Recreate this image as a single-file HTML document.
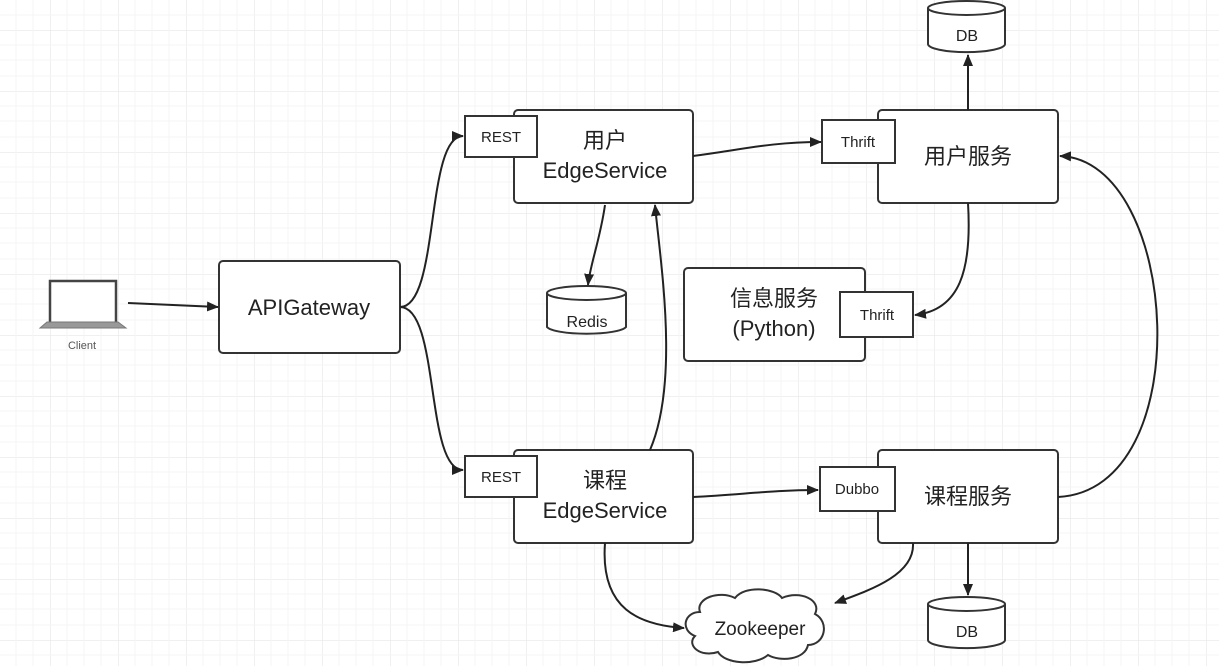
<!DOCTYPE html>
<html><head><meta charset="utf-8"><style>
html,body{margin:0;padding:0;background:#fff;}
svg{display:block;}
text{font-family:"Liberation Sans","Noto Sans CJK SC",sans-serif;fill:#222;}
</style></head><body>
<svg width="1219" height="666" viewBox="0 0 1219 666" xmlns="http://www.w3.org/2000/svg">
<defs>
<pattern id="g" width="68" height="61" patternUnits="userSpaceOnUse" x="-18" y="30">
<path d="M0 0H68M0 0V61" stroke="#e6e6e6" stroke-width="1.2" fill="none"/>
<path d="M0 15H68M0 30H68M0 46H68M17 0V61M34 0V61M51 0V61" stroke="#f4f4f4" stroke-width="1" fill="none"/>
</pattern>
<marker id="a" markerWidth="12" markerHeight="10" refX="11" refY="5" orient="auto" markerUnits="userSpaceOnUse"><path d="M0 0L12 5L0 10Z" fill="#222"/></marker>
</defs>
<rect width="1219" height="666" fill="url(#g)"/>
<g fill="#fff" stroke="#333" stroke-width="2">
<rect x="219" y="261" width="181" height="92" rx="4"/>
<rect x="514" y="110" width="179" height="93" rx="4"/>
<rect x="514" y="450" width="179" height="93" rx="4"/>
<rect x="878" y="110" width="180" height="93" rx="4"/>
<rect x="878" y="450" width="180" height="93" rx="4"/>
<rect x="684" y="268" width="181" height="93" rx="4"/>
<rect x="465" y="116" width="72" height="41"/>
<rect x="465" y="456" width="72" height="41"/>
<rect x="822" y="120" width="73" height="43"/>
<rect x="820" y="467" width="75" height="44"/>
<rect x="840" y="292" width="73" height="45"/>
</g>
<g font-size="15">
<text x="501" y="142" text-anchor="middle">REST</text>
<text x="501" y="482" text-anchor="middle">REST</text>
<text x="858" y="147" text-anchor="middle">Thrift</text>
<text x="857" y="494" text-anchor="middle">Dubbo</text>
<text x="877" y="320" text-anchor="middle">Thrift</text>
</g>
<g font-size="22" text-anchor="middle">
<text x="309" y="315">APIGateway</text>
<text x="605" y="148">用户</text>
<text x="605" y="178">EdgeService</text>
<text x="605" y="488">课程</text>
<text x="605" y="518">EdgeService</text>
<text x="968" y="164">用户服务</text>
<text x="968" y="504">课程服务</text>
<text x="774" y="306">信息服务</text>
<text x="774" y="336">(Python)</text>
</g>
<!-- DBs -->
<g stroke="#333" stroke-width="2" fill="#fff">
<path d="M928 8V44A38 8 0 0 0 1005 44V8"/><ellipse cx="966.5" cy="8" rx="38.5" ry="7"/>
<path d="M928 604V640A38 8 0 0 0 1005 640V604"/><ellipse cx="966.5" cy="604" rx="38.5" ry="7"/>
<path d="M547 293V327A40 8 0 0 0 626 327V293"/><ellipse cx="586.5" cy="293" rx="39.5" ry="7"/>
</g>
<g font-size="16" text-anchor="middle">
<text x="967" y="41">DB</text><text x="967" y="637">DB</text><text x="587" y="327">Redis</text>
</g>
<!-- cloud -->
<path d="M700 612C695 598 720 590 735 598C745 585 775 588 782 598C800 590 822 600 815 614C830 622 825 645 808 645C805 660 780 662 768 655C755 666 725 664 718 652C700 658 686 645 695 636C680 630 684 612 700 612Z" fill="#fff" stroke="#333" stroke-width="2"/>
<text x="760" y="635" font-size="19" text-anchor="middle">Zookeeper</text>
<!-- laptop -->
<rect x="50" y="281" width="66" height="44" fill="#fff" stroke="#444" stroke-width="2.5"/>
<path d="M40 328L47 322H118L126 328Z" fill="#999" stroke="#777"/>
<text x="82" y="349" font-size="11" text-anchor="middle" style="fill:#555">Client</text>
<!-- connectors -->
<g stroke="#222" stroke-width="2" fill="none" marker-end="url(#a)">
<path d="M128 303L218 307"/>
<path d="M400 307C440 307 425 136 463 136"/>
<path d="M400 307C440 307 425 470 463 470"/>
<path d="M693 156C740 150 770 142 821 142"/>
<path d="M605 205C600 240 590 265 588 285"/>
<path d="M650 450C680 380 660 260 655 205"/>
<path d="M968 203C972 270 960 310 915 315"/>
<path d="M968 110V55"/>
<path d="M968 543V595"/>
<path d="M1058 497C1200 490 1180 160 1060 156"/>
<path d="M693 497C740 495 770 490 818 490"/>
<path d="M605 543C600 610 640 625 684 628"/>
<path d="M913 543C915 575 870 590 835 603"/>
</g>
</svg>
</body></html>
